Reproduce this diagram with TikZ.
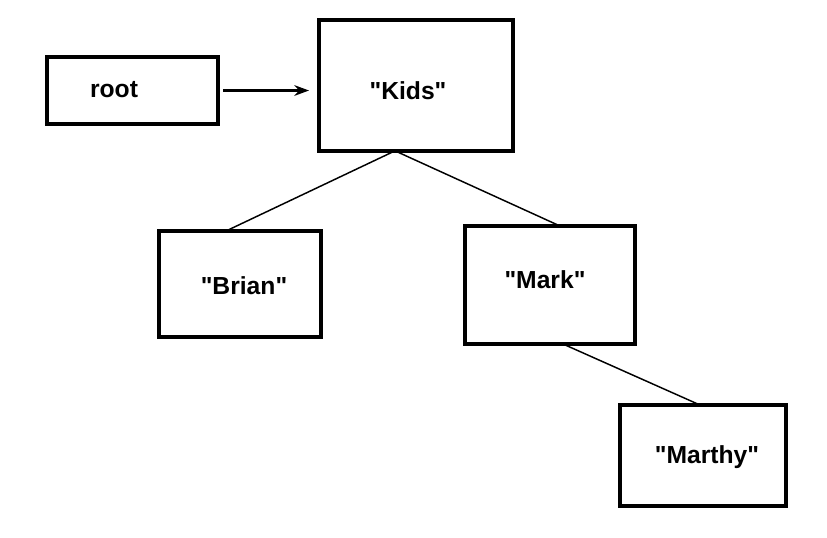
\documentclass[tikz,border=0pt]{standalone}
\usepackage{fontspec}
\setmainfont{Liberation Sans}[Ligatures=TeXOff]
\usetikzlibrary{arrows.meta, positioning, calc}

\begin{document}
\begin{tikzpicture}[
    x=0.75pt, y=-0.75pt,
    every node/.style={font=\fontsize{18.5}{22}\selectfont\bfseries},
    box/.style={draw, line width=2.6pt, inner sep=0pt, outer sep=0pt},
    txt/.style={inner sep=0pt},
    edge/.style={line width=1.1pt},
]
\useasboundingbox (0,0) rectangle (827,537);

% boxes of the tree
\node[box, minimum width=128pt, minimum height=50pt] (root) at (132.5, 90.5) {};
\node[box, minimum width=145.5pt, minimum height=98pt] (kids) at (416, 85.5) {};
\node[box, minimum width=121.5pt, minimum height=79.5pt] (brian) at (240, 284) {};
\node[box, minimum width=127.5pt, minimum height=88.5pt] (mark) at (550, 285) {};
\node[box, minimum width=124.5pt, minimum height=75.75pt] (marthy) at (703, 455.5) {};

% texts inside them
\node[txt] (rootT) at (114, 90) {root};
\node[txt] (kidsT) at (408, 91) {"Kids"};
\node[txt] (brianT) at (244, 286) {"Brian"};
\node[txt] (markT) at (545, 280) {"Mark"};
\node[txt] (marthyT) at (707, 457) {"Marthy"};

% pointer from root
\draw[line width=2pt, -{Stealth[length=11pt, width=8pt]}, shorten <=4pt, shorten >=7.5pt]
    (root.east) -- (root.east -| kids.west);

% links between the boxes
\draw[edge] ($(kids.south)+(-21,0)$) -- ($(brian.north)+(-14,0)$);
\draw[edge] ($(kids.south)+(-21,0)$) -- ($(mark.north)+(10,0)$);
\draw[edge] ($(mark.south)+(13,0)$) -- ($(marthy.north)+(-3,0)$);
\end{tikzpicture}
\end{document}
